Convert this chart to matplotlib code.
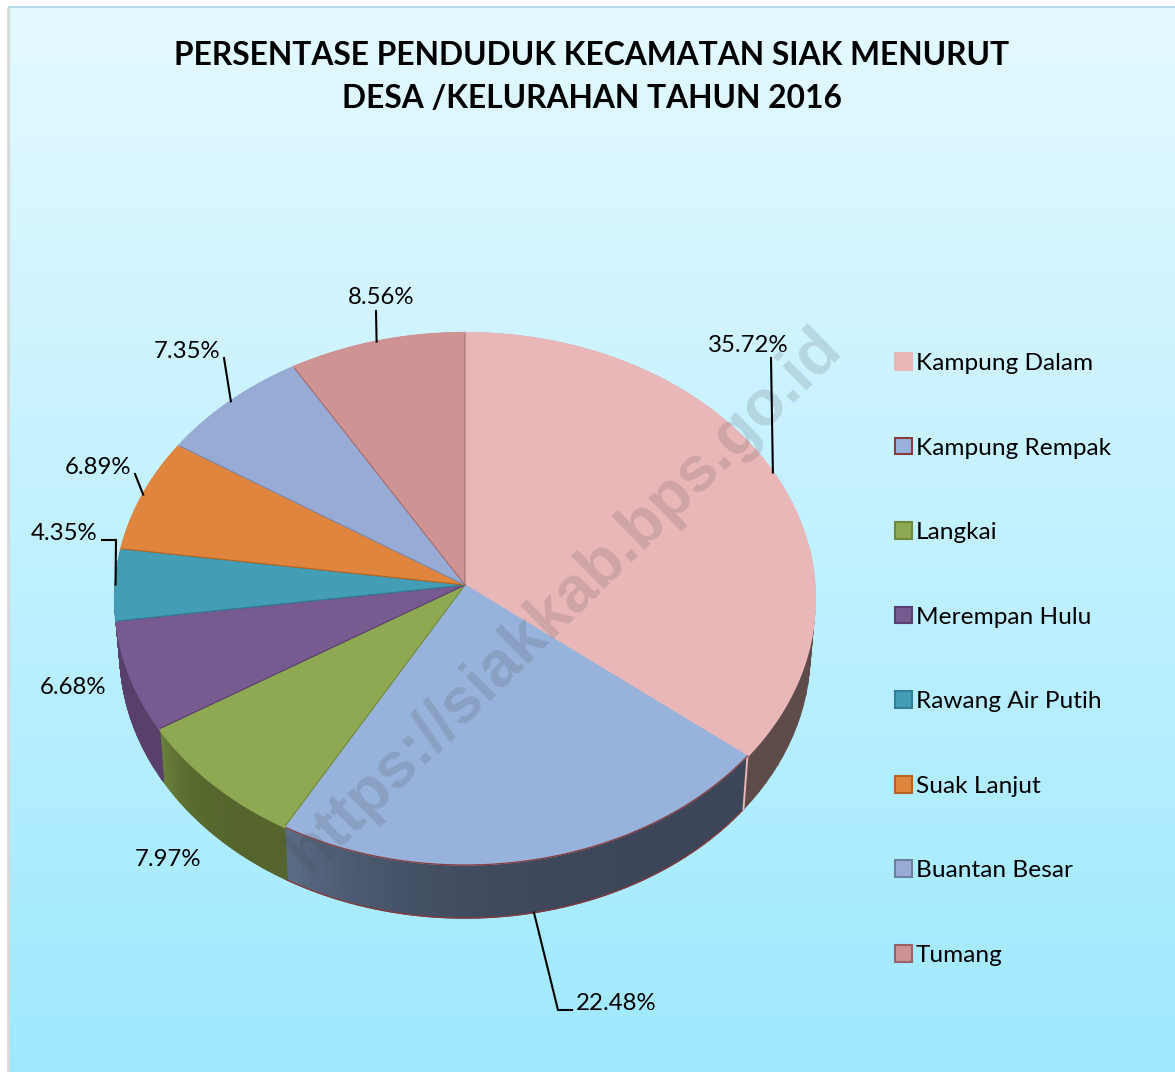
import numpy as np
import matplotlib
matplotlib.use("Agg")
import matplotlib.pyplot as plt
from matplotlib.colors import to_rgb
from matplotlib.patches import Patch

# Data
desa = ["Kampung Dalam", "Kampung Rempak", "Langkai", "Merempan Hulu",
        "Rawang Air Putih", "Suak Lanjut", "Buantan Besar", "Tumang"]
persen = [35.72, 22.48, 7.97, 6.68, 4.35, 6.89, 7.35, 8.56]
warna = ["#E9B7B7", "#97B3DC", "#8EA951", "#775A90",
         "#429DB5", "#E0853D", "#97ABD4", "#D09394"]
# slice edges on the pie
warna_tepi = ["#E9B7B7", "#97B3DC", "#6F8A3A", "#5A4070",
              "#2F7F96", "#B5651F", "#7A8FBC", "#A86F70"]
# square edges in the legend
warna_legenda = ["#E9B7B7", "#8B3A3A", "#6F8A3A", "#5A4070",
                 "#2F7F96", "#B5651F", "#6E7F9F", "#9A6466"]
# wall colours at the start and the end of each slice (clockwise)
dinding_a = ["#5E4B4A", "#3C4658", "#55652D", "#58406A",
             "#58406A", "#E0853D", "#97ABD4", "#D09394"]
dinding_b = ["#5E4B4A", "#5A6B85", "#69813C", "#58406A",
             "#58406A", "#E0853D", "#97ABD4", "#D09394"]

judul = "PERSENTASE PENDUDUK KECAMATAN SIAK MENURUT\nDESA /KELURAHAN TAHUN 2016"
font = "Lato"

# Layout of the tilted pie, in pixels
cx, cy = 465, 585
A, B, k = 349.5, 265.3, 0.0526
depth = 53
shrink = 0.986


def project(theta, lower=False):
    u, v = np.sin(theta), np.cos(theta)
    w = 1 + k * v
    x = A * u / w
    y = -B * v / w
    if lower:
        return cx + shrink * x, cy + y + depth
    return cx + x, cy + y


fig = plt.figure(figsize=(11.75, 10.72), dpi=100, facecolor="white")
ax = fig.add_axes([0, 0, 1, 1])
ax.set_xlim(0, 1175)
ax.set_ylim(1072, 0)
ax.axis("off")

# Background gradient and frame
grad = np.linspace(0, 1, 256)[:, None, None]
top = np.array(to_rgb("#E4F9FF"))
bot = np.array(to_rgb("#9FE9FF"))
ax.imshow(top + (bot - top) * grad, extent=(9, 1175, 1072, 7), aspect="auto", zorder=0)
ax.set_xlim(0, 1175)
ax.set_ylim(1072, 0)
ax.plot([9, 9, 1175], [1072, 7, 7], color="#B4DDE9", lw=1.5, zorder=1)
ax.plot([7.5, 7.5], [9, 1072], color="#D9D9D9", lw=2, zorder=1)

# Slice boundaries from the percentages
batas = np.cumsum([0] + persen) / sum(persen) * 2 * np.pi

# Side walls
for i in range(len(persen)):
    th = np.linspace(batas[i], batas[i + 1], 60)
    ca, cb = np.array(to_rgb(dinding_a[i])), np.array(to_rgb(dinding_b[i]))
    for j in range(len(th) - 1):
        # colour stays near the start and changes late in the slice
        warna_d = ca + (cb - ca) * (j / (len(th) - 2)) ** 4
        x1, y1 = project(th[j:j + 2])
        x2, y2 = project(th[j:j + 2], lower=True)
        ax.fill(np.r_[x1, x2[::-1]], np.r_[y1, y2[::-1]], color=warna_d, lw=1, zorder=2)
    if i == 1:
        # red rim along the lower edge of the large blue slice
        x2, y2 = project(th, lower=True)
        ax.plot(x2, y2, color="#8B3A3A", lw=0.9, zorder=3)

# Pale seam between the first two walls
x1, y1 = project(batas[1])
x2, y2 = project(batas[1], lower=True)
ax.plot([x1, x2], [y1, y2], color="#E9B7B7", lw=1.4, zorder=3)

# Top faces
for i in range(len(persen)):
    th = np.linspace(batas[i], batas[i + 1], 200)
    x, y = project(th)
    ax.fill(np.r_[cx, x], np.r_[cy, y], facecolor=warna[i], edgecolor=warna_tepi[i],
            lw=0.8, joinstyle="round", zorder=4)
    # the rim is a bit wider so the wall behind it does not show through
    if i == 1:
        ax.plot(x, y, color="#8B3A3A", lw=0.9, zorder=4)
    else:
        ax.plot(x, y, color=warna[i], lw=1.6, zorder=4)

# Watermark
ax.text(564, 600, "https://siakkab.bps.go.id", rotation=44.5, rotation_mode="anchor",
        ha="center", va="center", family="Liberation Sans", weight="bold",
        fontsize=46, color="#404040", alpha=0.16, zorder=5)

# Percentage labels
label_xy = [(748, 345), (616, 1004), (168, 860), (73, 687),
            (64, 534), (98, 468), (187, 352), (381, 298)]
for p, (lx, ly) in zip(persen, label_xy):
    ax.text(lx, ly, f"{p:.2f}%", ha="center", va="center", family=font,
            fontsize=17.3, color="black", zorder=7)

# Leader lines, ending on the middle of the slice rim
tengah = (batas[:-1] + batas[1:]) / 2
siku = {0: [(771, 358)], 1: [(572, 1010), (558, 1010)], 4: [(102, 540), (116, 540)],
        5: [(135, 474)], 6: [(224, 358)], 7: [(376, 311)]}
for i, titik in siku.items():
    px, py = project(tengah[i], lower=(i == 1))
    xs = [t[0] for t in titik] + [px]
    ys = [t[1] for t in titik] + [py]
    ax.plot(xs, ys, color="black", lw=1.5, solid_joinstyle="miter", zorder=6)

# Title
ax.text(592, 77, judul, ha="center", va="center", family=font, weight="bold",
        fontsize=22.9, color="black", linespacing=1.6, zorder=7)

# Legend
handles = [Patch(facecolor=c, edgecolor=e, lw=1.5) for c, e in zip(warna, warna_legenda)]
leg = ax.legend(handles, desa, loc="upper left", bbox_to_anchor=(895 / 1175, 1 - 353 / 1072),
                frameon=False, prop={"family": font, "size": 17.6},
                labelspacing=2.6, handlelength=0.68, handleheight=0.68, handletextpad=0.18,
                borderaxespad=0, borderpad=0)
leg.set_zorder(7)

fig.savefig("out.png", dpi=100)
